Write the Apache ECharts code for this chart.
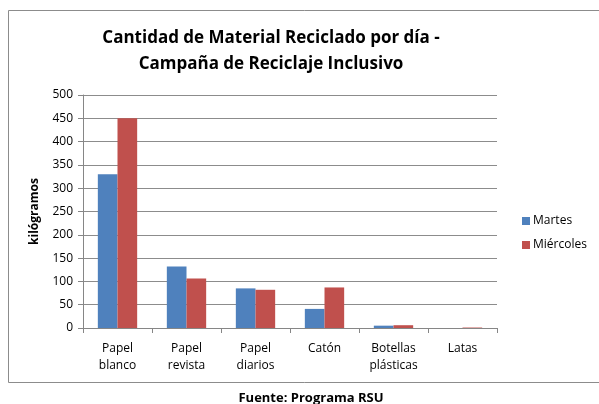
<!DOCTYPE html>
<html>
<head>
<meta charset="utf-8">
<script src="https://cdn.jsdelivr.net/npm/echarts@6/dist/echarts.min.js"></script>
<style>
  html, body { margin: 0; padding: 0; background: #fff; }
  #chart { width: 599px; height: 404px; }
</style>
</head>
<body>
<div id="chart"></div>
<script>
const categories = ['Papel\nblanco', 'Papel\nrevista', 'Papel\ndiarios', 'Catón', 'Botellas\nplásticas', 'Latas'];
const martesValues = [330, 132, 85, 41, 5, 0];
const miercolesValues = [450, 106, 82, 87, 6, 1];
const yTicks = [0, 50, 100, 150, 200, 250, 300, 350, 400, 450, 500];

const FONT = '"Open Sans", "Noto Sans", sans-serif';

const chart = echarts.init(document.getElementById('chart'));

chart.setOption({
  animation: false,
  backgroundColor: '#fff',
  title: [
    {
      text: 'Cantidad de Material Reciclado por día -\nCampaña de Reciclaje Inclusivo',
      left: 266,
      top: 20,
      textAlign: 'center',
      textStyle: { fontFamily: FONT, fontSize: 17, fontWeight: 'bold', color: '#000', lineHeight: 26 }
    },
    {
      text: 'Fuente: Programa RSU',
      left: 306,
      top: 387,
      textAlign: 'center',
      textStyle: { fontFamily: FONT, fontSize: 13, fontWeight: 'bold', color: '#000' }
    }
  ],
  graphic: [
    {
      type: 'rect',
      shape: { x: 8.5, y: 10.5, width: 600, height: 372 },
      style: { fill: 'none', stroke: '#8c8c8c', lineWidth: 1 },
      silent: true
    }
  ],
  legend: {
    orient: 'vertical',
    left: 517,
    top: 210,
    itemWidth: 8,
    itemHeight: 8,
    itemGap: 12,
    icon: 'rect',
    textStyle: { fontFamily: FONT, fontSize: 12, color: '#000', padding: [0, 0, 0, -2] },
    data: ['Martes', 'Miércoles']
  },
  grid: { left: 83, right: 102, top: 95, bottom: 76, containLabel: false },
  xAxis: {
    type: 'category',
    data: categories,
    axisLine: { lineStyle: { color: '#868686' } },
    axisTick: { show: true, inside: false, length: 5, lineStyle: { color: '#868686' } },
    axisLabel: { fontFamily: FONT, fontSize: 12, color: '#000', lineHeight: 17, margin: 12, interval: 0 }
  },
  yAxis: {
    type: 'value',
    min: yTicks[0],
    max: yTicks[yTicks.length - 1],
    interval: 50,
    name: 'kilógramos',
    nameLocation: 'middle',
    nameGap: 42,
    nameRotate: 90,
    nameTextStyle: { fontFamily: FONT, fontSize: 12, fontWeight: 'bold', color: '#000' },
    axisLine: { show: true, lineStyle: { color: '#868686' } },
    axisTick: { show: true, inside: false, length: 5, lineStyle: { color: '#868686' } },
    axisLabel: { fontFamily: FONT, fontSize: 12, color: '#000', margin: 10 },
    splitLine: { show: true, lineStyle: { color: '#8c8c8c', width: 1 } }
  },
  series: [
    {
      name: 'Martes',
      type: 'bar',
      data: martesValues,
      barGap: '0%',
      barCategoryGap: '43%',
      itemStyle: { color: '#4F81BD' }
    },
    {
      name: 'Miércoles',
      type: 'bar',
      data: miercolesValues,
      barGap: '0%',
      barCategoryGap: '43%',
      itemStyle: { color: '#C0504D' }
    }
  ]
});
</script>
</body>
</html>
